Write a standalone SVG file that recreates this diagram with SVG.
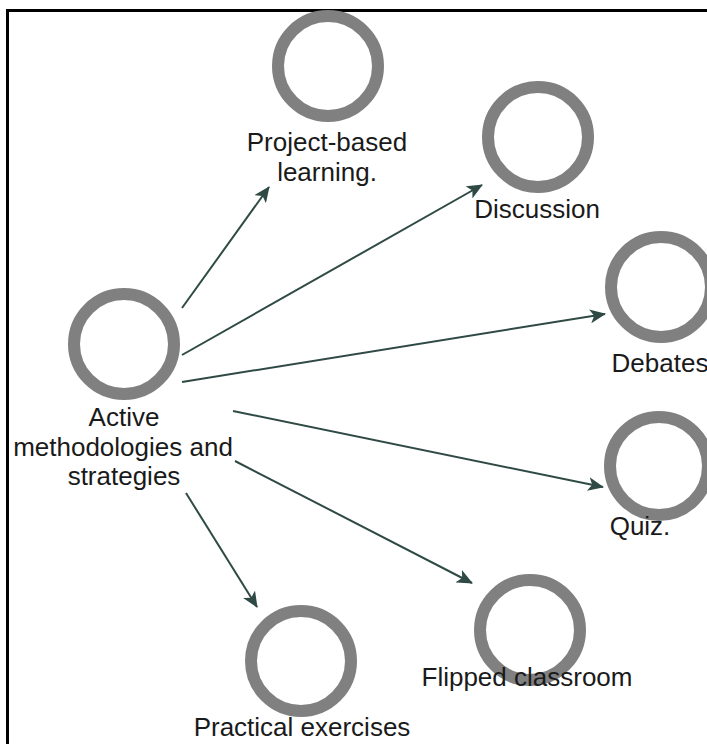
<svg xmlns="http://www.w3.org/2000/svg" width="707" height="744" viewBox="0 0 707 744">
  <defs>
    <style>
      .ring { fill: none; stroke: #808080; stroke-width: 12; }
      .lbl { font-family: "Liberation Sans", Arial, sans-serif; font-size: 26px; fill: #1a1a1a; text-anchor: middle; }
      .edge { stroke: #2f4a45; stroke-width: 2; fill: none; marker-end: url(#arr); }
    </style>
    <marker id="arr" viewBox="0 0 16 14" refX="15" refY="7" markerWidth="16" markerHeight="14" markerUnits="userSpaceOnUse" orient="auto">
      <path d="M0,0 L16,7 L0,14 L4,7 z" fill="#2f4a45"/>
    </marker>
  </defs>
  <rect x="0" y="0" width="707" height="744" fill="#ffffff"/>
  <rect x="7.5" y="10.5" width="720" height="760" fill="none" stroke="#000" stroke-width="3"/>

  <g id="connectors">
    <line class="edge" x1="182" y1="308" x2="269" y2="187"/>
    <line class="edge" x1="182" y1="355" x2="482" y2="185"/>
    <line class="edge" x1="182" y1="382" x2="605" y2="314"/>
    <line class="edge" x1="233" y1="411" x2="603" y2="487"/>
    <line class="edge" x1="235" y1="461" x2="472" y2="583"/>
    <line class="edge" x1="186" y1="493" x2="257" y2="607"/>
  </g>

  <g id="node-active">
    <circle class="ring" cx="124" cy="344" r="50"/>
    <text class="lbl" x="124" y="426">Active</text>
    <text class="lbl" x="123" y="456">methodologies and</text>
    <text class="lbl" x="124" y="485">strategies</text>
  </g>
  <g id="node-project">
    <circle class="ring" cx="328" cy="66" r="50"/>
    <text class="lbl" x="327" y="151">Project-based</text>
    <text class="lbl" x="327" y="181">learning.</text>
  </g>
  <g id="node-discussion">
    <circle class="ring" cx="538" cy="137" r="50"/>
    <text class="lbl" x="537" y="218">Discussion</text>
  </g>
  <g id="node-debates">
    <circle class="ring" cx="661" cy="287" r="50"/>
    <text class="lbl" x="660" y="372">Debates</text>
  </g>
  <g id="node-quiz">
    <circle class="ring" cx="659" cy="466" r="49"/>
    <text class="lbl" x="640" y="535">Quiz.</text>
  </g>
  <g id="node-flipped">
    <circle class="ring" cx="530" cy="630" r="50"/>
    <text class="lbl" x="527" y="686">Flipped classroom</text>
  </g>
  <g id="node-practical">
    <circle class="ring" cx="301" cy="661" r="50"/>
    <text class="lbl" x="302" y="736">Practical exercises</text>
  </g>
</svg>
